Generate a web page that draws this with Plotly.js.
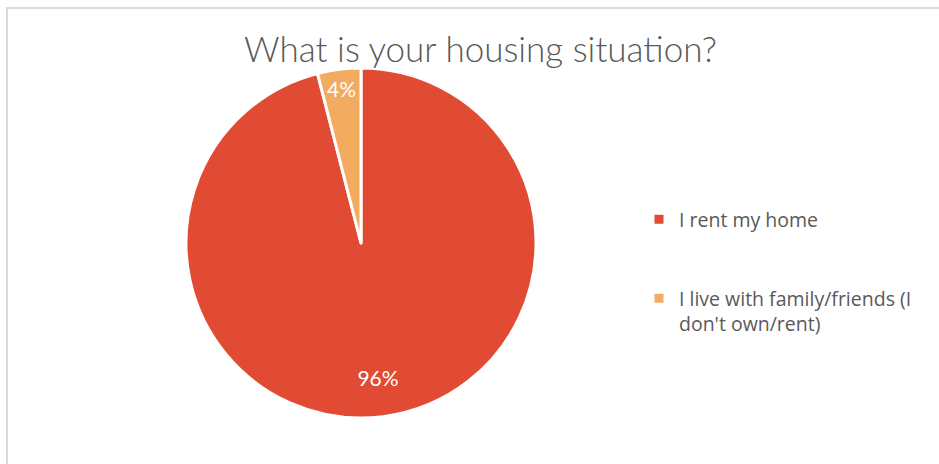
<!DOCTYPE html>
<html>
<head>
<meta charset="utf-8">
<script src="https://cdn.plot.ly/plotly-3.0.1.min.js"></script>
<style>
  html, body { margin: 0; padding: 0; background: #ffffff; }
  #wrap { position: relative; width: 939px; height: 464px; overflow: hidden; }
  #chart { position: absolute; left: 0; top: 0; width: 939px; height: 464px; }
  #frame { position: absolute; left: 6px; top: 7px; width: 960px; height: 480px;
           border-left: 2px solid #d9d9d9; border-top: 2px solid #d9d9d9; pointer-events: none; }
</style>
</head>
<body>
<div id="wrap">
  <div id="chart"></div>
  <div id="frame"></div>
</div>
<script>
const titleText = "What is your housing situation?";
const categories = ["I rent my home<br> <br> ", "I live with family/friends (I<br>don't own/rent)"];
const shares = [96, 4];
const sliceColors = ["#e14b34", "#f2ab5f"];

const pieDomain = { x: [186/939, 536/939], y: [46/464, 396/464] };
const labelFont = { family: "Lato, 'Open Sans', sans-serif", size: 21, color: "#ffffff" };

// Visible pie (slices + small-slice label)
const pieTrace = {
  type: "pie",
  labels: categories,
  values: shares,
  sort: false,
  direction: "clockwise",
  rotation: 0,
  marker: { colors: sliceColors, line: { color: "#ffffff", width: 3 } },
  texttemplate: ["", "%{percent:.0%}"],
  textposition: "inside",
  insidetextorientation: "horizontal",
  textfont: labelFont,
  hoverinfo: "none",
  domain: pieDomain
};

// Transparent ring over the same data, only used to place the large-slice label further out
const labelRing = {
  type: "pie",
  labels: categories,
  values: shares,
  sort: false,
  direction: "clockwise",
  rotation: 0,
  hole: 0.55,
  marker: { colors: ["rgba(0,0,0,0)", "rgba(0,0,0,0)"], line: { width: 0 } },
  texttemplate: ["%{percent:.0%}", ""],
  textposition: "inside",
  insidetextorientation: "horizontal",
  textfont: labelFont,
  hoverinfo: "none",
  showlegend: false,
  domain: pieDomain
};

const layout = {
  width: 939, height: 464,
  margin: { l: 0, r: 0, t: 0, b: 0 },
  paper_bgcolor: "#ffffff",
  title: {
    text: titleText,
    x: 480.5/939, xanchor: "center",
    y: 1 - 50/464, yanchor: "middle",
    font: { family: "Lato, 'Open Sans', sans-serif", size: 35, color: "#595959", weight: 300 }
  },
  showlegend: true,
  legend: {
    x: 639/939, xanchor: "left",
    y: 1 - 200/464, yanchor: "top",
    valign: "top",
    font: { family: "'Open Sans', Lato, sans-serif", size: 19.5, color: "#595959" },
    bgcolor: "rgba(0,0,0,0)",
    itemclick: false, itemdoubleclick: false
  }
};

Plotly.newPlot("chart", [pieTrace, labelRing], layout, { staticPlot: true, displayModeBar: false });
</script>
</body>
</html>
